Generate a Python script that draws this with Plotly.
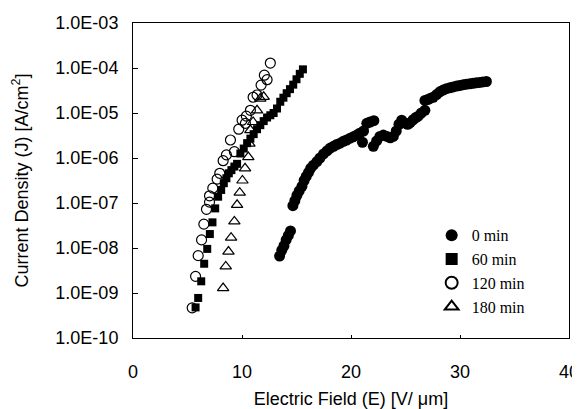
import plotly.graph_objects as go

# 0 min (filled circles)
x0 = [13.45, 13.65, 13.85, 14.05, 14.25, 14.45,
      14.67, 14.85, 15.04, 15.25, 15.50, 15.70, 15.89, 16.10, 16.30, 16.55, 16.87, 17.15,
      17.48, 17.80, 18.10, 18.40, 18.70, 19.00, 19.30, 19.60, 19.92, 20.20, 20.53, 20.80,
      21.15, 21.45, 21.75, 22.10, 21.05, 22.05, 22.35, 22.65, 22.97, 23.30, 23.60, 23.88,
      24.15, 24.40, 24.65, 24.95, 25.20, 25.41, 25.70, 25.95, 26.17, 26.45, 26.78, 26.78,
      27.05, 27.30, 27.54, 27.85, 28.15, 28.45, 28.75, 29.07, 29.37, 29.70, 29.98, 30.30,
      30.59, 30.90, 31.20, 31.50, 31.81, 32.10, 32.42]
logj0 = [-8.18, -8.05, -7.95, -7.82, -7.72, -7.62,
         -7.06, -6.95, -6.83, -6.73, -6.63, -6.50, -6.41, -6.32, -6.23, -6.16, -6.08, -6.00,
         -5.91, -5.84, -5.78, -5.74, -5.70, -5.67, -5.63, -5.60, -5.56, -5.53, -5.49, -5.45,
         -5.40, -5.23, -5.20, -5.17, -5.65, -5.74, -5.62, -5.52, -5.49, -5.52, -5.55, -5.52,
         -5.40, -5.25, -5.16, -5.22, -5.25, -5.22, -5.15, -5.10, -5.07, -5.00, -4.94, -4.72,
         -4.70, -4.67, -4.65, -4.59, -4.53, -4.49, -4.46, -4.44, -4.42, -4.40, -4.39, -4.37,
         -4.36, -4.35, -4.34, -4.33, -4.32, -4.31, -4.30]

# 60 min (filled squares)
x60 = [5.74, 5.98, 6.26, 6.53, 6.81, 7.05, 7.29, 7.54, 7.81, 8.09, 8.33, 8.57, 8.79, 9.03,
       9.30, 9.55, 9.85, 10.16, 10.47, 10.77, 11.07, 11.38, 11.68, 11.99, 12.30, 12.60,
       12.90, 13.21, 13.51, 13.80, 14.10, 14.40, 14.70, 15.00, 15.30, 15.59]
logj60 = [-9.32, -9.11, -8.74, -8.35, -8.02, -7.69, -7.43, -7.12, -6.86, -6.71, -6.56, -6.45,
          -6.34, -6.27, -6.19, -6.13, -5.90, -5.79, -5.67, -5.57, -5.47, -5.36, -5.27, -5.18,
          -5.10, -5.05, -5.00, -4.90, -4.75, -4.66, -4.56, -4.47, -4.37, -4.25, -4.13, -4.03]

# 120 min (open circles)
x120 = [5.43, 5.74, 5.98, 6.29, 6.50, 6.74, 7.02, 7.02, 7.32, 7.72, 7.96, 8.27, 8.57, 8.94,
        9.30, 9.70, 10.01, 10.31, 10.40, 10.77, 11.02, 11.38, 11.75, 12.05, 12.30, 12.60]
logj120 = [-9.33, -8.63, -8.17, -7.82, -7.47, -7.14, -6.98, -6.84, -6.67, -6.47, -6.34, -6.06,
           -5.93, -5.60, -5.86, -5.36, -5.16, -5.23, -5.07, -4.94, -4.65, -4.60, -4.38, -4.16,
           -4.26, -3.89]

# 180 min (open triangles)
x180 = [8.27, 8.51, 8.76, 9.00, 9.30, 9.55, 9.79, 10.04, 10.28, 10.58, 10.68, 10.77, 11.02,
        11.38, 11.68, 11.99]
logj180 = [-8.89, -8.41, -8.08, -7.77, -7.41, -7.04, -6.77, -6.50, -6.23, -5.98, -5.68, -5.38,
           -5.20, -4.94, -4.68, -4.64]

y_tickvals = [1e-10, 1e-9, 1e-8, 1e-7, 1e-6, 1e-5, 1e-4, 1e-3]
y_ticktext = ["1.0E-10", "1.0E-09", "1.0E-08", "1.0E-07", "1.0E-06", "1.0E-05", "1.0E-04", "1.0E-03"]
x_tickvals = [0, 10, 20, 30, 40]

def tolin(v):
    return [10 ** a for a in v]

fig = go.Figure()
fig.add_trace(go.Scatter(x=x0, y=tolin(logj0), mode="markers", name="0 min",
                         marker=dict(symbol="circle", size=11, color="black")))
fig.add_trace(go.Scatter(x=x60, y=tolin(logj60), mode="markers", name="60 min",
                         marker=dict(symbol="square", size=8, color="black")))
fig.add_trace(go.Scatter(x=x120, y=tolin(logj120), mode="markers", name="120 min",
                         marker=dict(symbol="circle-open", size=10, color="black",
                                     line=dict(width=1.2, color="black"))))
fig.add_trace(go.Scatter(x=x180, y=tolin(logj180), mode="markers", name="180 min",
                         marker=dict(symbol="triangle-up-open", size=10, color="black",
                                     line=dict(width=1.2, color="black"))))

axis_font = dict(family="Liberation Sans, Arial, sans-serif", size=18, color="black")
title_font = dict(family="Liberation Sans, Arial, sans-serif", size=18, color="black")

# page body adds an 8px offset, so the figure is 8px smaller than the window
fig.update_layout(
    width=572, height=401,
    margin=dict(l=125, r=11, t=15, b=71),
    paper_bgcolor="white", plot_bgcolor="white",
    showlegend=True,
    legend=dict(x=0.685, y=0.38, xanchor="left", yanchor="top",
                font=dict(family="Liberation Serif, Times New Roman, serif", size=16, color="black"),
                bgcolor="rgba(0,0,0,0)", itemsizing="constant", tracegroupgap=0),
    xaxis=dict(range=[0, 40], tickvals=x_tickvals, ticks="inside", ticklen=3,
               tickcolor="black", showline=True, linecolor="black", linewidth=1,
               mirror=True, showgrid=False, zeroline=False, tickfont=axis_font,
               ticklabelstandoff=17, automargin=False,
               title=dict(text="Electric Field (E) [V/ μm]", font=title_font, standoff=14)),
    yaxis=dict(type="log", range=[-10, -3], tickvals=y_tickvals, ticktext=y_ticktext,
               ticks="inside", ticklen=5, tickcolor="black", showline=True,
               linecolor="black", linewidth=1, mirror=True, showgrid=False,
               zeroline=False, tickfont=axis_font, ticklabelstandoff=10, automargin=False,
               title=dict(text="Current Density (J) [A/cm<sup>2</sup>]", font=title_font,
                          standoff=22)),
)

fig.write_html("out.html")
